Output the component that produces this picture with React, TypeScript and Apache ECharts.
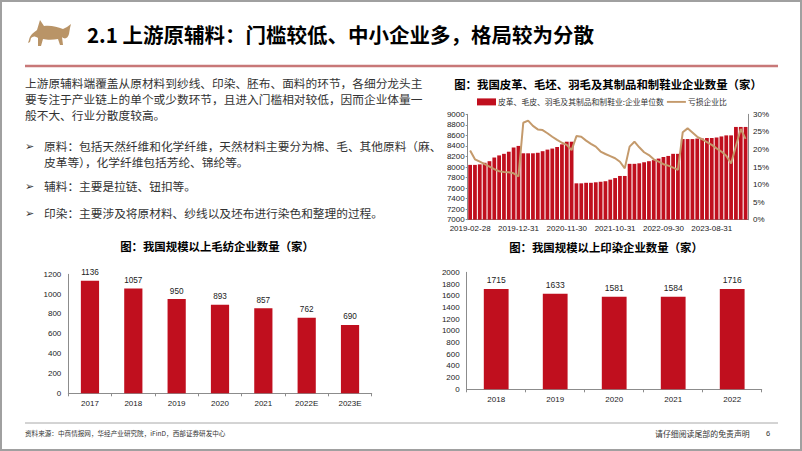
import React, { useEffect, useRef } from "react";
import * as echarts from "echarts";

// ---------- DATA ----------
const monthDates = [
  "2019-02-28","2019-03-31","2019-04-30","2019-05-31","2019-06-30","2019-07-31","2019-08-31","2019-09-30","2019-10-31","2019-11-30","2019-12-31",
  "2020-02-29","2020-03-31","2020-04-30","2020-05-31","2020-06-30","2020-07-31","2020-08-31","2020-09-30","2020-10-31","2020-11-30","2020-12-31",
  "2021-02-28","2021-03-31","2021-04-30","2021-05-31","2021-06-30","2021-07-31","2021-08-31","2021-09-30","2021-10-31","2021-11-30","2021-12-31",
  "2022-02-28","2022-03-31","2022-04-30","2022-05-31","2022-06-30","2022-07-31","2022-08-31","2022-09-30","2022-10-31","2022-11-30","2022-12-31",
  "2023-02-28","2023-03-31","2023-04-30","2023-05-31","2023-06-30","2023-07-31","2023-08-31","2023-09-30","2023-10-31","2023-11-30","2023-12-31",
  "2024-02-29","2024-03-31","2024-04-30",
];
const leatherFirms = [
  8040, 8040, 8050, 8080, 8110, 8180, 8220, 8250, 8290, 8370, 8400,
  8260, 8260, 8260, 8270, 8300, 8330, 8350, 8380, 8430, 8480, 8480,
  7690, 7690, 7700, 7700, 7710, 7720, 7730, 7760, 7790, 7830, 7830,
  8060, 8060, 8070, 8090, 8110, 8130, 8160, 8190, 8210, 8250, 8250,
  8530, 8530, 8530, 8540, 8540, 8550, 8550, 8560, 8580, 8600, 8600,
  8760, 8760, 8760,
];
const lossRatio = [
  19.7, 17.2, 16.5, 15.8, 15.1, 14.4, 13.8, 13.6, 13.5, 13.2, 12.3,
  27.6, 28.2, 26.7, 25.7, 25.5, 24.6, 23.6, 22.7, 21.9, 21.3, 19.8,
  23.8, 23.6, 22.5, 21.6, 20.8, 19.4, 18.7, 18.1, 17.5, 16.5, 14.6,
  20.8, 22.2, 20.6, 19.2, 18.4, 17.2, 16.5, 15.8, 15.4, 14.8, 14.2,
  24.9, 26.0, 24.8, 23.6, 22.9, 22.1, 21.3, 20.3, 19.4, 18.2, 16.0,
  21.0, 25.8, 23.0,
];
const woolYears = ["2017", "2018", "2019", "2020", "2021", "2022E", "2023E"];
const woolFirms = [1136, 1057, 950, 893, 857, 762, 690];
const dyeYears = ["2018", "2019", "2020", "2021", "2022"];
const dyeFirms = [1715, 1633, 1581, 1584, 1716];

const leftAxisTicks = { min: 7000, max: 9000, interval: 200 };
const rightAxisTicks = { min: 0, max: 30, interval: 5 };

const titleText = "2.1 上游原辅料：门槛较低、中小企业多，格局较为分散";
const paraLines = [
  "上游原辅料端覆盖从原材料到纱线、印染、胚布、面料的环节，各细分龙头主",
  "要专注于产业链上的单个或少数环节，且进入门槛相对较低，因而企业体量一",
  "般不大、行业分散度较高。",
];
const bullet1 = ["原料：包括天然纤维和化学纤维，天然材料主要分为棉、毛、其他原料（麻、", "皮革等），化学纤维包括芳纶、锦纶等。"];
const bullet2 = "辅料：主要是拉链、钮扣等。";
const bullet3 = "印染：主要涉及将原材料、纱线以及坯布进行染色和整理的过程。";
const chartTitle1 = "图：我国皮革、毛坯、羽毛及其制品和制鞋业企业数量（家）";
const chartTitle2 = "图：我国规模以上毛纺企业数量（家）";
const chartTitle3 = "图：我国规模以上印染企业数量（家）";
const legendBar = "皮革、毛皮、羽毛及其制品和制鞋业:企业单位数";
const legendLine = "亏损企业比";
const sourceText = "资料来源：中商情报网，华经产业研究院，iFinD，西部证券研发中心";
const disclaimer = "请仔细阅读尾部的免责声明";
const pageNo = "6";

// ---------- STYLE ----------
const RED = "#C00F1E";
const TAN = "#C49A6C";
const CJK = "'Noto Sans CJK SC', 'DejaVu Sans', sans-serif";
const LAT = "'Liberation Sans', Arial, sans-serif";
const AXIS = "#8C8C8C";

const bullPath =
  "M13 0 L17 6 C24 5 30 7 36 9 L40 7 L44 4 L43 8 L42 14 C41 18 38 20 35 17 L36 25 L33 25 L31 19 C26 20 20 20 16 19 L14 26 L11 26 L11 18 C8 16 6 16 4 18 L3 22 L1 23 L2 20 C3 14 8 12 10 10 Z";

let registered = false;
function ensureShape() {
  if (registered) return;
  echarts.graphic.registerShape("bull", echarts.graphic.extendPath(bullPath, {}));
  registered = true;
}

function txt(text: string, x: number, y: number, size: number, extra: any = {}) {
  return {
    type: "text",
    x,
    y,
    style: {
      text,
      fontSize: size,
      fontFamily: CJK,
      fill: "#333",
      textVerticalAlign: "middle",
      verticalAlign: "middle",
      ...extra,
    },
  };
}

const plain = (v: number) => String(v);

export default function App() {
  const ref = useRef<HTMLDivElement>(null);
  useEffect(() => {
    if (!ref.current) return;
    ensureShape();
    const chart = echarts.init(ref.current, undefined, { renderer: "svg", width: 802, height: 451 });

    const bodySize = 11.7;
    const graphic: any[] = [
      { type: "rect", shape: { x: 1, y: 1, width: 800, height: 449 }, style: { fill: "none", stroke: "#A0A0A0", lineWidth: 2 } },
      { type: "bull", x: 27, y: 20, scaleX: 1, scaleY: 1, style: { fill: "#B99467" } },
      txt(titleText, 87, 34, 20.5, { fill: "#000", fontWeight: "bold" }),
      { type: "line", shape: { x1: 25, y1: 66, x2: 778, y2: 66 }, style: { stroke: "#C87878", lineWidth: 2.5 } },
      txt(paraLines[0], 25, 82, bodySize),
      txt(paraLines[1], 25, 98, bodySize),
      txt(paraLines[2], 25, 114, bodySize),
      txt("➢", 25, 145, 11),
      txt(bullet1[0], 44, 145, bodySize),
      txt(bullet1[1], 44, 161, bodySize),
      txt("➢", 25, 185, 11),
      txt(bullet2, 44, 185, bodySize),
      txt("➢", 25, 212, 11),
      txt(bullet3, 44, 212, bodySize),
      txt(chartTitle1, 608, 84, 11.4, { fill: "#000", fontWeight: "bold", align: "center", textAlign: "center" }),
      txt(chartTitle2, 217, 246, 11.4, { fill: "#000", fontWeight: "bold", align: "center", textAlign: "center" }),
      txt(chartTitle3, 606, 247, 11.4, { fill: "#000", fontWeight: "bold", align: "center", textAlign: "center" }),
      { type: "line", shape: { x1: 25, y1: 423, x2: 778, y2: 423 }, style: { stroke: "#A8A8A8", lineWidth: 1 } },
      txt(sourceText, 25, 433, 6.6),
      txt(disclaimer, 655, 433, 7.9),
      txt(pageNo, 766, 433, 7.5, { fontFamily: LAT }),
    ];

    const axisLabel = { fontSize: 8, fontFamily: LAT, color: "#222" };
    const axisLine = { show: true, lineStyle: { color: AXIS, width: 1 } };

    const option: any = {
      animation: false,
      backgroundColor: "#fff",
      graphic,
      legend: {
        data: [
          { name: legendBar, icon: "rect" },
          { name: legendLine, icon: "path://M0,0 L20,0 L20,2 L0,2 Z", itemStyle: { color: TAN } },
        ],
        left: 477,
        top: 98,
        itemWidth: 19,
        itemHeight: 7,
        itemGap: 3,
        textStyle: { fontSize: 7.8, fontFamily: CJK, color: "#333", padding: [0, 0, 0, -3] },
        padding: 0,
      },
      grid: [
        { left: 467.7, right: 54, top: 114.3, bottom: 231.3 },
        { left: 68.3, right: 430.3, top: 274.3, bottom: 57.7 },
        { left: 466.7, right: 40.3, top: 272.3, bottom: 61.7 },
      ],
      xAxis: [
        {
          type: "category",
          gridIndex: 0,
          data: monthDates,
          axisLine,
          axisTick: { show: false },
          axisLabel: { ...axisLabel, interval: 9, margin: 5 },
        },
        {
          type: "category",
          gridIndex: 1,
          data: woolYears,
          axisLine,
          axisTick: { show: true, length: 3, lineStyle: { color: AXIS } },
          axisLabel: { ...axisLabel, margin: 6 },
        },
        {
          type: "category",
          gridIndex: 2,
          data: dyeYears,
          axisLine,
          axisTick: { show: true, length: 3, lineStyle: { color: AXIS } },
          axisLabel: { ...axisLabel, margin: 6 },
        },
      ],
      yAxis: [
        {
          type: "value",
          gridIndex: 0,
          ...leftAxisTicks,
          axisLine,
          axisTick: { show: true, length: 2, lineStyle: { color: AXIS } },
          splitLine: { show: false },
          axisLabel: { ...axisLabel, margin: 3, formatter: plain },
        },
        {
          type: "value",
          gridIndex: 0,
          position: "right",
          ...rightAxisTicks,
          axisLine,
          axisTick: { show: false },
          splitLine: { show: false },
          axisLabel: { ...axisLabel, margin: 5, formatter: "{value}%" },
        },
        {
          type: "value",
          gridIndex: 1,
          min: 0,
          max: 1200,
          interval: 200,
          axisLine,
          axisTick: { show: false },
          splitLine: { show: false },
          axisLabel: { ...axisLabel, margin: 7, formatter: plain },
        },
        {
          type: "value",
          gridIndex: 2,
          min: 0,
          max: 2000,
          interval: 200,
          axisLine,
          axisTick: { show: false },
          splitLine: { show: false },
          axisLabel: { ...axisLabel, margin: 7, formatter: plain },
        },
      ],
      series: [
        {
          name: legendBar,
          type: "bar",
          xAxisIndex: 0,
          yAxisIndex: 0,
          data: leatherFirms,
          barCategoryGap: "22%",
          itemStyle: { color: RED },
        },
        {
          name: legendLine,
          type: "line",
          xAxisIndex: 0,
          yAxisIndex: 1,
          data: lossRatio,
          showSymbol: false,
          symbol: "none",
          lineStyle: { color: TAN, width: 2 },
          itemStyle: { color: TAN },
        },
        {
          name: "毛纺",
          type: "bar",
          xAxisIndex: 1,
          yAxisIndex: 2,
          data: woolFirms,
          barWidth: "42%",
          itemStyle: { color: RED },
          label: { show: true, position: "top", distance: 4, fontSize: 8.2, fontFamily: LAT, color: "#222" },
        },
        {
          name: "印染",
          type: "bar",
          xAxisIndex: 2,
          yAxisIndex: 3,
          data: dyeFirms,
          barWidth: "42%",
          itemStyle: { color: RED },
          label: { show: true, position: "top", distance: 4, fontSize: 8.5, fontFamily: LAT, color: "#222" },
        },
      ],
    };
    chart.setOption(option);
    return () => chart.dispose();
  }, []);
  return (
    <div
      ref={ref}
      style={{ position: "fixed", left: 0, top: 0, width: 802, height: 451, background: "#fff" }}
    />
  );
}
